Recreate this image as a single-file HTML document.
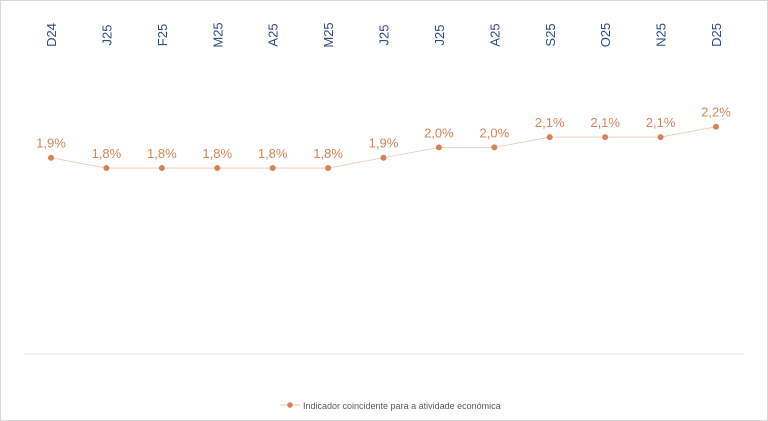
<!DOCTYPE html>
<html><head><meta charset="utf-8"><style>
body{margin:0;background:#fff;}
svg{display:block;font-family:"Liberation Sans",sans-serif;}
</style></head><body>
<svg id="c" width="768" height="421">
<rect x="0.5" y="0.5" width="767" height="420" fill="#fff" stroke="#d9d9d9"/>
<line x1="24" y1="354" x2="744" y2="354" stroke="#e6e6e6"/>
<g id="g"></g>
<g>
<line x1="280" y1="405" x2="300" y2="405" stroke="#e8c4b0"/>
<circle cx="290" cy="405" r="2.8" fill="#d3845a"/>
<text x="303" y="409" font-size="9" fill="#595959">Indicador coincidente para a atividade económica</text>
</g>
</svg>
<script>
const categories=["D24","J25","F25","M25","A25","M25","J25","J25","A25","S25","O25","N25","D25"];
const values=[1.9,1.8,1.8,1.8,1.8,1.8,1.9,2.0,2.0,2.1,2.1,2.1,2.2];
const labels=["1,9%","1,8%","1,8%","1,8%","1,8%","1,8%","1,9%","2,0%","2,0%","2,1%","2,1%","2,1%","2,2%"];
const NS="http://www.w3.org/2000/svg";
const g=document.getElementById('g');
const x=i=>51+i*(716-51)/(categories.length-1);
const y=v=>354-v*103.3;
function mk(t,a){const e=document.createElementNS(NS,t);for(const k in a)e.setAttribute(k,a[k]);g.appendChild(e);return e;}
const pl=mk('polyline',{points:values.map((v,i)=>x(i)+','+y(v)).join(' '),fill:'none',stroke:'#ecc9b6','stroke-width':0.8});


categories.forEach((c,i)=>{
 const t=mk('text',{x:0,y:0,transform:`translate(${x(i)+5},${35}) rotate(-90)`,'text-anchor':'middle','font-size':13,fill:'#2f4b86'});
 t.textContent=c;
 
 
 const p=mk('circle',{cx:x(i),cy:y(values[i]),r:3,fill:'#d3845a'});
 
 
 const l=mk('text',{x:x(i),y:y(values[i])-10,'text-anchor':'middle','font-size':13,fill:'#d3845a'});
 l.textContent=labels[i];
 
 
});
</script>
</body></html>
